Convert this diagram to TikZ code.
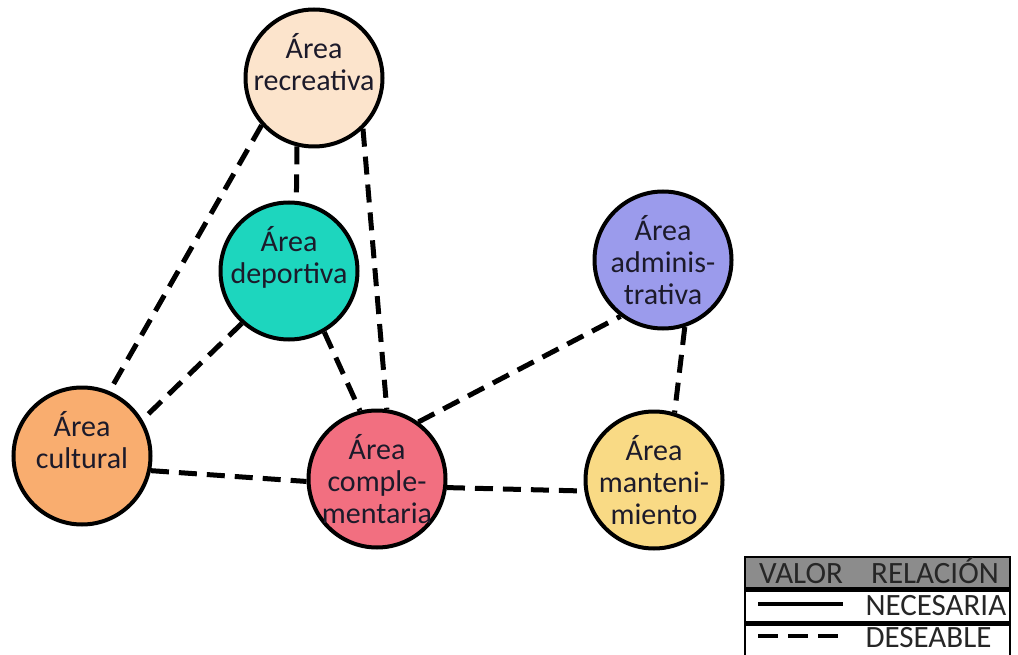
\documentclass[tikz,border=0pt]{standalone}
\usepackage{fontspec}
\setmainfont{Carlito}
\usetikzlibrary{positioning}

\definecolor{recreativa}{HTML}{FCE4CC}
\definecolor{deportiva}{HTML}{1DD6BE}
\definecolor{administrativa}{HTML}{9B9BEC}
\definecolor{cultural}{HTML}{F9AD6F}
\definecolor{complementaria}{HTML}{F26F80}
\definecolor{mantenimiento}{HTML}{F9DA85}
\definecolor{textdark}{HTML}{1C1A2A}
\definecolor{legendgray}{HTML}{8C8C8C}

\begin{document}
\begin{tikzpicture}[x=1pt, y=-1pt,
  every node/.style={align=center, text=textdark, font=\fontsize{30}{32}\selectfont},
  area/.style={draw, circle, line width=4pt, minimum size=137pt, inner sep=-30pt},
  link/.style={line width=5pt, dash pattern=on 18pt off 10pt},
  legendrow/.style={draw, line width=2.5pt, minimum width=265pt, minimum height=31.5pt, inner sep=0pt},
  legendtext/.style={text=black!85, font=\fontsize{31}{32}\selectfont, anchor=base}]
\useasboundingbox (0,0) rectangle (1018,655);

% Areas
\node (rec) [area, fill=recreativa] at (314,78) {Área\\recreativa\\\mbox{}};
\node (dep) [area, fill=deportiva] at (289,271) {Área\\deportiva\\\mbox{}};
\node (adm) [area, fill=administrativa] at (663,260) {Área\\adminis-\\trativa};
\node (cul) [area, fill=cultural] at (82,456) {Área\\cultural\\\mbox{}};
\node (com) [area, fill=complementaria] at (377,479) {Área\\comple-\\mentaria};
\node (man) [area, fill=mantenimiento] at (654,480) {Área\\manteni-\\miento};

% Relations
\draw[link] (rec.-104) -- (dep.84);
\draw[link] (rec.222) -- (cul.67);
\draw[link] (rec.-46) -- (com.82);
\draw[link] (dep.228) -- (cul.31);
\draw[link] (dep.-60) -- (com.104);
\draw[link] (cul.-12) -- (com.182);
\draw[link] (com.54) -- (adm.233);
\draw[link] (com.-7) -- (man.189);
\draw[link] (adm.-72) -- (man.73);

% Legend
\node (leg-head) [legendrow, fill=legendgray] at (877.5,572.5) {};
\node (leg-nec) [legendrow, below=0pt of leg-head] {};
\node (leg-des) [legendrow, below=0pt of leg-nec] {};
\node (valor) [legendtext] at (801,583) {VALOR};
\node (relacion) [legendtext] at (935,583) {RELACIÓN};
\node (necesaria) [legendtext, anchor=base west] at (862,615) {NECESARIA};
\node (deseable) [legendtext, anchor=base west] at (862,647) {DESEABLE};
\coordinate (nec-a) at (758,604);
\coordinate (nec-b) at (843,604);
\coordinate (des-a) at (758,636);
\coordinate (des-b) at (838,636);
\draw[line width=4pt] (nec-a) -- (nec-b);
\draw[line width=4pt, dash pattern=on 20pt off 10pt] (des-a) -- (des-b);
\end{tikzpicture}
\end{document}
